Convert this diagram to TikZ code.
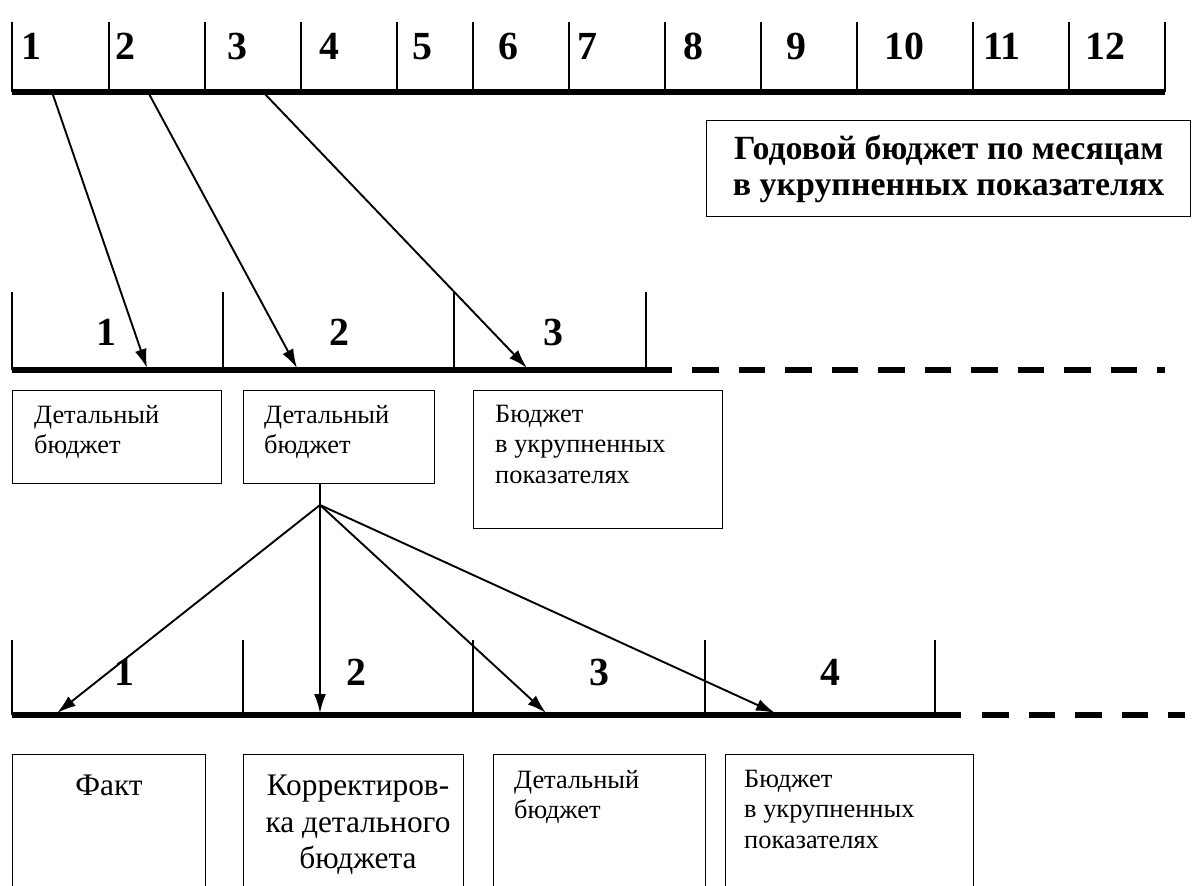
\documentclass[tikz,border=0pt]{standalone}
\usepackage{fontspec}
\setmainfont{Liberation Serif}
\usetikzlibrary{arrows.meta,positioning}

\tikzset{
  axis/.style={line width=5.5bp},
  gapaxis/.style={line width=5.5bp, dash pattern=on 26.5bp off 20bp},
  notch/.style={line width=1.5bp},
  arr/.style={-{Latex[length=19bp,width=12bp]}, line width=1.9bp},
  num/.style={font=\fontsize{40}{46}\selectfont\bfseries, inner sep=0, anchor=base},
  plan/.style={draw, line width=1.4bp, anchor=north west, inner sep=0},
  txt/.style={font=\fontsize{26.5}{30.5}\selectfont, align=left, inner sep=0, anchor=north west},
  bigtxt/.style={font=\fontsize{31.5}{36.5}\selectfont, align=center, inner sep=0, anchor=north},
  head/.style={font=\fontsize{34}{36}\selectfont\bfseries, align=center, inner sep=0},
}

\begin{document}
\begin{tikzpicture}[x=1bp,y=-1bp]
  \useasboundingbox (0,0) rectangle (1195,886);
  \clip (0,0) rectangle (1195,886);
%%
  % Axis: months of the year
  \draw[axis] (12,92) -- (1165,92);
  \foreach \x in {12,109,205,301,397,473,569,665,761,857,973,1069,1165}
    \draw[notch] (\x,22) -- (\x,92);
  \node[num] (m1) at (31,59) {1};
  \node[num] (m2) at (125,59) {2};
  \node[num] (m3) at (237,59) {3};
  \node[num] (m4) at (329,59) {4};
  \node[num] (m5) at (422,59) {5};
  \node[num] (m6) at (508,59) {6};
  \node[num] (m7) at (587,59) {7};
  \node[num] (m8) at (693,59) {8};
  \node[num] (m9) at (796,59) {9};
  \node[num] (m10) at (904,59) {10};
  \node[num] (m11) at (1002,59) {11};
  \node[num] (m12) at (1105,59) {12};
  % Node: year budget
  \node[plan, minimum width=484bp, minimum height=96bp] (year) at (706,120) {};
  \node[head] (yeartxt) at (year.center) {Годовой бюджет по месяцам\\в укрупненных показателях};
%%
  % Axis: quarters
  \draw[axis] (12,370) -- (672,370);
  \draw[gapaxis] (692,370) -- (1165,370);
  \foreach \x in {12,223,454,646}
    \draw[notch] (\x,292) -- (\x,370);
  \node[num] (q1) at (106,345) {1};
  \node[num] (q2) at (339,345) {2};
  \node[num] (q3) at (553,345) {3};
  % Edge: months -> quarters
  \coordinate (y1) at (52,92);
  \coordinate (y2) at (148,92);
  \coordinate (y3) at (263,92);
  \coordinate (p1) at (147,368);
  \coordinate (p2) at (297,368);
  \coordinate (p3) at (527,368);
  \draw[arr] (y1) -- (p1);
  \draw[arr] (y2) -- (p2);
  \draw[arr] (y3) -- (p3);
  % Node: quarter budgets
  \node[plan, minimum width=209bp, minimum height=93bp] (detA) at (12,390) {};
  \node[plan, minimum width=191bp, minimum height=93bp] (detB) at (243,390) {};
  \node[plan, minimum width=249bp, minimum height=138bp] (sumC) at (473,390) {};
  \node[txt] (detAtxt) at (34,405) {Детальный\\бюджет};
  \node[txt] (detBtxt) at (264,405) {Детальный\\бюджет};
  \node[txt] (sumCtxt) at (495,405) {Бюджет\\в укрупненных\\показателях};
%%
  % Axis: months of the quarter
  \draw[axis] (12,715) -- (961,715);
  \draw[gapaxis] (982,715) -- (1185,715);
  \foreach \x in {12,243,473,705,935}
    \draw[notch] (\x,640) -- (\x,715);
  \node[num] (k1) at (124,685) {1};
  \node[num] (k2) at (356,685) {2};
  \node[num] (k3) at (599,685) {3};
  \node[num] (k4) at (830,685) {4};
  % Edge: detailed budget -> months
  \coordinate (fan) at (320,505);
  \coordinate (r1) at (57,713);
  \coordinate (r2) at (320,713);
  \coordinate (r3) at (546,713);
  \coordinate (r4) at (775,713);
  \draw[line width=1.9bp] (fan |- detB.south) -- (fan);
  \draw[arr] (fan) -- (r1);
  \draw[arr] (fan) -- (r2);
  \draw[arr] (fan) -- (r3);
  \draw[arr] (fan) -- (r4);
  % Node: month budgets
  \node[plan, minimum width=193bp, minimum height=160bp] (fact) at (12,754) {};
  \node[plan, minimum width=220bp, minimum height=160bp] (korr) at (243,754) {};
  \node[plan, minimum width=212bp, minimum height=160bp] (detC) at (493,754) {};
  \node[plan, minimum width=248bp, minimum height=160bp] (sumD) at (725,754) {};
  \node[bigtxt] (facttxt) at (109,775) {Факт};
  \node[bigtxt] (korrtxt) at (358,775) {Корректиров-\\ка детального\\бюджета};
  \node[txt] (detCtxt) at (514,770) {Детальный\\бюджет};
  \node[txt] (sumDtxt) at (744,770) {Бюджет\\в укрупненных\\показателях};
%
\end{tikzpicture}
\end{document}
